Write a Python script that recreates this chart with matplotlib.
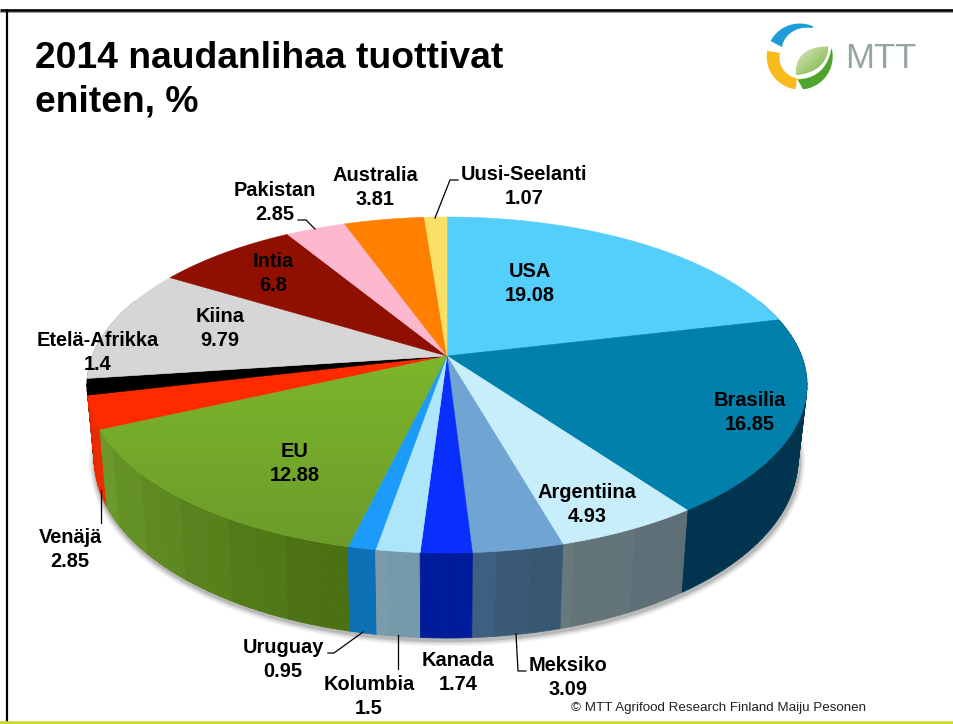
import numpy as np
import matplotlib
matplotlib.use("Agg")
import matplotlib.pyplot as plt
from matplotlib.colors import to_rgb, LinearSegmentedColormap
from matplotlib.patches import Polygon

# values as printed in the labels, in clockwise order from 12 o'clock
countries = ["USA", "Brasilia", "Argentiina", "Meksiko", "Kanada", "Kolumbia", "Uruguay", "EU",
             "Venäjä", "Etelä-Afrikka", "Kiina", "Intia", "Pakistan", "Australia", "Uusi-Seelanti"]
shares = [19.08, 16.85, 4.93, 3.09, 1.74, 1.5, 0.95, 12.88, 2.85, 1.4, 9.79, 6.8, 2.85, 3.81, 1.07]
share_labels = ["19.08", "16.85", "4.93", "3.09", "1.74", "1.5", "0.95", "12.88",
                "2.85", "1.4", "9.79", "6.8", "2.85", "3.81", "1.07"]

top_colors = ["#54CFFB", "#0080AB", "#C9EEFB", "#6FA4D3", "#0A2EFB", "#ADE6FB", "#1C9BFB", "#7BB22A",
              "#FF2A00", "#000000", "#D6D6D6", "#8F0F00", "#FDB8D0", "#FF7F00", "#FBE066"]
wall_right = ["#1A6A8A", "#00344F", "#5C6C76", "#35546C", "#001C9A", "#6F97A6", "#0A66AC", "#4A6E12",
              "#E82A00", "#000000", "#888888", "#4F0800", "#8A6A78", "#8A4500", "#8A7A38"]
wall_left = ["#1A6A8A", "#00344F", "#66787C", "#3F5F80", "#001C9A", "#7C9CAC", "#0E70B4", "#6B9A2B",
             "#F02A00", "#000000", "#888888", "#4F0800", "#8A6A78", "#8A4500", "#8A7A38"]

label_xy = [(530, 283.5), (750, 412.5), (587, 504.5), (568, 677.5), (458, 672.5), (369, 696.5), (283, 659.5),
            (295, 463.5), (70, 549.5), (98, 352.5), (220, 328.5), (273, 273.5), (275, 202.5), (375, 187.5),
            (524, 186.5)]
leaders = [[(435, 218), (450, 180), (458, 180)],
           [(315, 229), (306, 220), (298, 220)],
           [(100.7, 490), (100.7, 523)],
           [(363, 632), (334, 653), (328, 653)],
           [(398, 635), (398, 669)],
           [(516, 634), (518, 671), (526, 671)]]

plt.rcParams["font.family"] = ["Liberation Sans", "DejaVu Sans"]

fig = plt.figure(figsize=(9.54, 7.24), dpi=100)
ax = fig.add_axes([0, 0, 1, 1])

# slide frame
ax.plot([0, 954], [9.5, 9.5], color="black", lw=1.9, solid_capstyle="butt", zorder=1)
ax.plot([0, 954], [11.5, 11.5], color="#999999", lw=0.7, zorder=0.9)
ax.plot([7, 7], [9, 724], color="black", lw=1.6, solid_capstyle="butt", zorder=1)
ax.plot([0, 954], [722.5, 722.5], color="#CDD63C", lw=2.6, solid_capstyle="butt", zorder=1)

ax.text(35, 58, "2014 naudanlihaa tuottivat", fontsize=26.8, fontweight="bold", ha="left", va="center")
ax.text(35, 102, "eniten, %", fontsize=26.8, fontweight="bold", ha="left", va="center")

# tilted disc: circle seen in perspective
cx, cy = 447, 356
a, b, k = 354.6, 163.0, 0.1726


def top_pt(t):
    u, v = np.sin(t), np.cos(t)
    return cx + a * u / (1 + k * v), cy - b * v / (1 + k * v)


def bottom_pt(t):
    x, y = top_pt(t)
    v = np.cos(t)
    return cx + np.where(x < cx, 0.98, 0.975) * (x - cx), y + 72 - 13 * v


edges = np.concatenate([[0], np.cumsum(shares)]) / sum(shares) * 2 * np.pi

# soft shadow below the disc
tt = np.linspace(0, 2 * np.pi, 721)
sx, sy = bottom_pt(tt)
for lw, al in [(9, 0.05), (7, 0.07), (5, 0.10), (3, 0.16)]:
    ax.plot(sx + 1, sy + 2, color="#303030", lw=lw, alpha=al, zorder=2)

# side wall, back to front, in vertical bands
quads = []
for i in range(len(shares)):
    n = max(int(np.degrees(edges[i + 1] - edges[i]) / 1.5), 1)
    ts = np.linspace(edges[i], edges[i + 1], n + 1)
    c0, c1 = np.array(to_rgb(wall_right[i])), np.array(to_rgb(wall_left[i]))
    amp = 0.0 if wall_right[i] == wall_left[i] else 0.012
    for j in range(n):
        t0, t1 = ts[j], ts[j + 1]
        if np.cos((t0 + t1) / 2) > 0.35:
            continue
        f = (j // 3 * 3 + 1.5) / n
        col = c0 + (c1 - c0) * min(f, 1)
        col = np.clip(col * (1 + amp * (-1) ** (j // 3)), 0, 1)
        xa, ya = top_pt(t0)
        xb, yb = top_pt(t1)
        xc, yc = bottom_pt(t1)
        xd, yd = bottom_pt(t0)
        quads.append((np.cos((t0 + t1) / 2), [(xa, ya), (xb, yb), (xc, yc), (xd, yd)], col))
quads.sort(key=lambda q: -q[0])
for _, pts, col in quads:
    ax.add_patch(Polygon(pts, closed=True, fc=col, ec=col, lw=0.6, zorder=3))

# top face
for i in range(len(shares)):
    ts = np.linspace(edges[i], edges[i + 1], max(int(np.degrees(edges[i + 1] - edges[i])), 2) + 1)
    xs, ys = top_pt(ts)
    pts = [(cx, cy)] + list(zip(xs, ys))
    wedge = Polygon(pts, closed=True, fc=top_colors[i], ec=top_colors[i], lw=0.4, zorder=4)
    ax.add_patch(wedge)
    if countries[i] == "EU":
        # the EU slice fades a little towards the viewer
        green = LinearSegmentedColormap.from_list("eu", ["#7CB62A", "#6B9A2A"])
        im = ax.imshow(np.linspace(0, 1, 100)[:, None], cmap=green, extent=(90, 450, 555, 355),
                       aspect="auto", zorder=4.1)
        im.set_clip_path(wedge)

# leader lines
for ln in leaders:
    xs, ys = zip(*ln)
    ax.plot(xs, ys, color="black", lw=0.9, zorder=5)

for name, val, (x, y) in zip(countries, share_labels, label_xy):
    ax.text(x, y, name + "\n" + val, fontsize=14.4, fontweight="bold", ha="center", va="center",
            linespacing=1.36, zorder=6)

ax.text(571, 708, "© MTT Agrifood Research Finland Maiju Pesonen", fontsize=9.63, ha="left", va="center",
        color="#222222", zorder=6)


# logo
def ring(a0, a1, r0a, r0b, r1=33, lx=799.7, ly=56.5):
    th = np.radians(np.linspace(a0, a1, 40))
    r0 = np.linspace(r0a, r0b, 40)
    outer = np.c_[lx + r1 * np.cos(th), ly - r1 * np.sin(th)]
    inner = np.c_[lx + r0[::-1] * np.cos(th[::-1]), ly - r0[::-1] * np.sin(th[::-1])]
    return np.vstack([outer, inner])


def bez(p0, p1, p2, n=30):
    s = np.linspace(0, 1, n)[:, None]
    return (1 - s) ** 2 * np.array(p0) + 2 * s * (1 - s) * np.array(p1) + s ** 2 * np.array(p2)


ax.add_patch(Polygon(ring(66, 152, 31, 20), fc="#1E9CD8", ec="none", zorder=4))
ax.add_patch(Polygon(ring(170, 263, 20, 22), fc="#F8BA1C", ec="none", zorder=4))
th = np.radians(np.linspace(-84, 16, 40))
outer = np.c_[799.7 + 33 * np.cos(th), 56.5 - 33 * np.sin(th)]
ax.add_patch(Polygon(np.vstack([outer, bez((831.7, 46.7), (826.7, 78.3), (797.3, 79.3))]),
                     fc="#4FA52C", ec="none", zorder=4))
leaf = Polygon(np.vstack([bez((796, 75), (795, 46.7), (828.3, 46.7)),
                          bez((828.3, 46.7), (826.7, 71.7), (796, 75))]), fc="#9CC46A", ec="none", zorder=4)
ax.add_patch(leaf)
leaf_cm = LinearSegmentedColormap.from_list("leaf", ["#DDE9CC", "#A9CE7E", "#6FB03A"])
gx, gy = np.meshgrid(np.linspace(0, 1, 40), np.linspace(0, 1, 40))
im = ax.imshow(gx + gy, cmap=leaf_cm, extent=(795, 829, 76, 46), aspect="auto", zorder=4.1)
im.set_clip_path(leaf)
ax.text(845, 58, "MTT", fontsize=25, color="#95A5A5", ha="left", va="center", zorder=4)

ax.set_xlim(0, 954)
ax.set_ylim(724, 0)
ax.axis("off")

fig.savefig("out.png", dpi=100)
